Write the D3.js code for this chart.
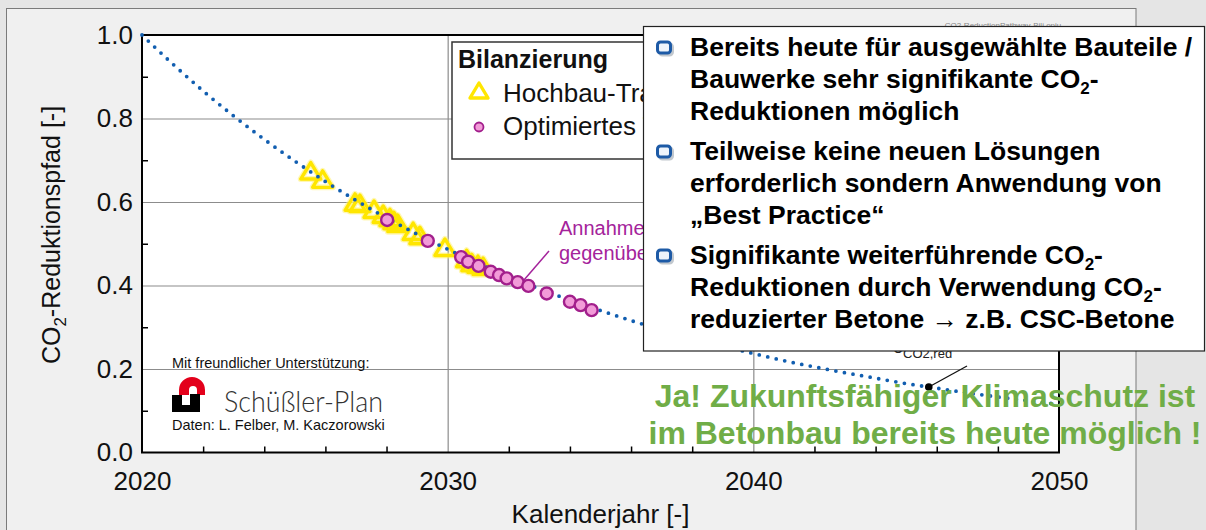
<!DOCTYPE html>
<html><head><meta charset="utf-8">
<script src="https://cdn.jsdelivr.net/npm/d3@7"></script>
<style>
html,body{margin:0;padding:0;background:#e5e5e5;}
svg{display:block;font-family:"Liberation Sans",Arial,sans-serif;}
</style></head><body>
<svg id="chart" width="1206" height="530"></svg>
<script>
// ---------------- data ----------------
const pathYears  = [2020,2021,2022,2023,2024,2025,2026,2027,2028,2029,2030,2031,2032,2033,2034,2035,2036,2037,2038,2039,2040,2041,2042,2043,2044,2045,2046,2047,2048,2049,2050];
const pathValues = [1.000,0.931,0.866,0.806,0.750,0.698,0.649,0.604,0.562,0.523,0.487,0.453,0.421,0.392,0.365,0.340,0.316,0.294,0.274,0.255,0.237,0.220,0.205,0.191,0.178,0.165,0.154,0.143,0.133,0.124,0.115];

const hochbauYears  = [2025.52,2025.91,2026.97,2027.13,2027.59,2027.89,2028.11,2028.24,2028.37,2028.87,2029.09,2029.91,2030.62,2030.79,2030.99,2031.16];
const hochbauValues = [0.673,0.653,0.598,0.595,0.581,0.569,0.561,0.554,0.547,0.528,0.518,0.490,0.463,0.453,0.449,0.444];

const optYears  = [2028.02,2029.35,2030.44,2030.67,2031.01,2031.41,2031.68,2031.93,2032.29,2032.64,2033.24,2034.00,2034.35,2034.71];
const optValues = [0.557,0.507,0.468,0.457,0.447,0.433,0.425,0.417,0.408,0.399,0.381,0.361,0.353,0.341];

const targetYear = [2045.74];
const targetValue = [0.157];

const xTicks = [2020,2030,2040,2050];
const yTicks = [0.0,0.2,0.4,0.6,0.8,1.0];
const xGrid = [2030,2040];
const yGrid = [0.2,0.4,0.6,0.8];
const xMinor = [2022,2024,2026,2028,2032,2034,2036,2038,2042,2044,2046,2048];
const yMinor = [0.1,0.3,0.5,0.7,0.9];

const xTitle = "Kalenderjahr [-]";
const yTitle = ["CO","2","-Reduktionspfad [-]"];
const legendTitle = "Bilanzierung";
const legendItems = ["Hochbau-Tragwerke","Optimiertes Tragwerk"];
const annotationLines = ["Annahme: optimierte Bauweise","gegenüber Referenz"];
const fileLabel = "CO2-ReductionPathway-Bili.opju";
const supportLabel = "Mit freundlicher Unterstützung:";
const logoLabel = "Schüßler-Plan";
const dataLabel = "Daten: L. Felber, M. Kaczorowski";
const bullets = [
  ["Bereits heute für ausgewählte Bauteile /","Bauwerke sehr signifikante CO_2-","Reduktionen möglich"],
  ["Teilweise keine neuen Lösungen","erforderlich sondern Anwendung von","„Best Practice“"],
  ["Signifikante weiterführende CO_2-","Reduktionen durch Verwendung CO_2-","reduzierter Betone → z.B. CSC-Betone"]
];
const conclusion = ["Ja! Zukunftsfähiger Klimaschutz ist","im Betonbau bereits heute möglich !"];

// ---------------- drawing ----------------
const W = 1206, H = 530;
const svg = d3.select("#chart");
const x = d3.scaleLinear().domain([2020,2050]).range([142,1059]);
const y = d3.scaleLinear().domain([0,1]).range([452.5,35]);
const pw = x(2050)-x(2020), ph = y(0)-y(1);

svg.append("rect").attr("width",W).attr("height",H).attr("fill","#e5e5e5");
svg.append("rect").attr("x",6.5).attr("y",8.5).attr("width",1129.5).attr("height",540)
  .attr("fill","#f0f0f0").attr("stroke","#7a7a7a").attr("stroke-width",1);

svg.append("text").attr("x",1003).attr("y",28).attr("text-anchor","middle")
  .attr("font-size",8).attr("fill","#888").text(fileLabel);

// plot background
svg.append("rect").attr("x",x(2020)).attr("y",y(1)).attr("width",pw).attr("height",ph).attr("fill","#fff");

// grid
function clean(g){ g.select(".domain").remove(); }
svg.append("g").attr("transform",`translate(0,${y(0)})`)
  .call(d3.axisBottom(x).tickValues(xGrid).tickSize(-ph).tickFormat(""))
  .call(clean).selectAll("line").attr("stroke","#8c8c8c").attr("stroke-width",1.2);
svg.append("g").attr("transform",`translate(${x(2020)},0)`)
  .call(d3.axisLeft(y).tickValues(yGrid).tickSize(-pw).tickFormat(""))
  .call(clean).selectAll("line").attr("stroke","#8c8c8c").attr("stroke-width",1.2);

// minor ticks
svg.append("g").attr("transform",`translate(0,${y(0)})`)
  .call(d3.axisBottom(x).tickValues(xMinor).tickSize(-6).tickFormat(""))
  .call(clean).selectAll("line").attr("stroke","#000").attr("stroke-width",1.5);
svg.append("g").attr("transform",`translate(${x(2020)},0)`)
  .call(d3.axisLeft(y).tickValues(yMinor).tickSize(-6).tickFormat(""))
  .call(clean).selectAll("line").attr("stroke","#000").attr("stroke-width",1.5);

// frame
svg.append("rect").attr("x",x(2020)).attr("y",y(1)).attr("width",pw).attr("height",ph)
  .attr("fill","none").attr("stroke","#000").attr("stroke-width",2);

// tick labels
const gx = svg.append("g").attr("transform",`translate(0,${y(0)})`)
  .call(d3.axisBottom(x).tickValues(xTicks).tickFormat(d3.format("d")).tickSize(0).tickPadding(19))
  .call(clean);
gx.attr("font-size",26).attr("font-family","'Liberation Sans',Arial,sans-serif");
gx.selectAll("text").attr("fill","#111");
const gy = svg.append("g").attr("transform",`translate(${x(2020)},0)`)
  .call(d3.axisLeft(y).tickValues(yTicks).tickFormat(d3.format(".1f")).tickSize(0).tickPadding(9))
  .call(clean);
gy.attr("font-size",26).attr("font-family","'Liberation Sans',Arial,sans-serif");
gy.selectAll("text").attr("fill","#111");

// axis titles
svg.append("text").attr("x",(x(2020)+x(2050))/2).attr("y",523).attr("text-anchor","middle")
  .attr("font-size",26).attr("fill","#111").text(xTitle);
const yt = svg.append("text").attr("transform","translate(60,235) rotate(-90)").attr("text-anchor","middle")
  .attr("font-size",25).attr("fill","#111");
yt.append("tspan").text(yTitle[0]);
yt.append("tspan").attr("font-size",17).attr("dy",6).text(yTitle[1]);
yt.append("tspan").attr("dy",-6).text(yTitle[2]);

// legend
const lg = svg.append("g");
lg.append("rect").attr("x",452).attr("y",42).attr("width",300).attr("height",117)
  .attr("fill","#fff").attr("stroke","#333").attr("stroke-width",1.5);
lg.append("text").attr("x",458).attr("y",68).attr("font-size",25).attr("font-weight","bold").attr("fill","#111").text(legendTitle);
lg.append("path").attr("d","M0,-8L9,7L-9,7Z").attr("transform","translate(479,91)")
  .attr("fill","none").attr("stroke","#ffe600").attr("stroke-width",3.4).attr("stroke-linejoin","round");
lg.append("text").attr("x",503).attr("y",102).attr("font-size",26).attr("fill","#111").text(legendItems[0]);
lg.append("circle").attr("cx",479).attr("cy",127).attr("r",4.5)
  .attr("fill","#f29bd8").attr("stroke","#a21f8c").attr("stroke-width",1.8);
lg.append("text").attr("x",503).attr("y",135).attr("font-size",26).attr("fill","#111").text(legendItems[1]);

// logo block
const lgo = svg.append("g");
lgo.append("text").attr("x",172).attr("y",367.5).attr("font-size",14.5).attr("fill","#111").text(supportLabel);
lgo.append("path").attr("d","M179,395V390A13,13 0 0 1 205,390V395H197V390A4,4 0 0 0 189,390V395Z").attr("fill","#e3001b");
lgo.append("path").attr("d","M172,395H182V405H190V394H200V412H172Z").attr("fill","#000");
lgo.append("text").attr("x",224).attr("y",411.5).attr("font-size",30).attr("font-weight",300)
  .attr("font-family","Lato,'Open Sans',sans-serif").attr("fill","#333")
  .attr("textLength",159).attr("lengthAdjust","spacingAndGlyphs").text(logoLabel);
lgo.append("text").attr("x",172).attr("y",430).attr("font-size",14.5).attr("fill","#111").text(dataLabel);

// data: triangles (halo + outline)
const triPath = "M0,-9L10,7.5L-10,7.5Z";
const triData = hochbauYears.map((d,i)=>[d,hochbauValues[i]]);
svg.append("g").selectAll("path").data(triData).join("path")
  .attr("d",triPath).attr("transform",d=>`translate(${x(d[0])},${y(d[1])})`)
  .attr("fill","none").attr("stroke","#fff176").attr("stroke-width",6).attr("stroke-linejoin","round").attr("opacity",0.55);
svg.append("g").selectAll("path").data(triData).join("path")
  .attr("d",triPath).attr("transform",d=>`translate(${x(d[0])},${y(d[1])})`)
  .attr("fill","none").attr("stroke","#ffe600").attr("stroke-width",3.4).attr("stroke-linejoin","round");

// reduction path (dotted)
const line = d3.line().x((d,i)=>x(pathYears[i])).y(d=>y(d)).curve(d3.curveMonotoneX);
svg.append("path").attr("d",line(pathValues)).attr("fill","none")
  .attr("stroke","#115eb0").attr("stroke-width",3.8).attr("stroke-linecap","round")
  .attr("stroke-dasharray","0 8.7");

// circles
svg.append("g").selectAll("circle").data(optYears.map((d,i)=>[d,optValues[i]])).join("circle")
  .attr("cx",d=>x(d[0])).attr("cy",d=>y(d[1])).attr("r",6)
  .attr("fill","#f29bd8").attr("stroke","#a21f8c").attr("stroke-width",2.4);

// magenta annotation
const ann = svg.append("g").attr("fill","#a4239b");
ann.append("line").attr("x1",549).attr("y1",251).attr("x2",524).attr("y2",280).attr("stroke","#a4239b").attr("stroke-width",1.5);
annotationLines.forEach((t,i)=>ann.append("text").attr("x",559).attr("y",235+i*25).attr("font-size",20).text(t));

// target annotation
const te = svg.append("text").attr("x",893).attr("y",353).attr("font-size",18).attr("fill","#222");
te.append("tspan").text("e");
te.append("tspan").attr("font-size",13).attr("dy",5).text("CO2,red");
te.append("tspan").attr("dy",-10).attr("dx",14).text("= –85 %");
svg.append("line").attr("x1",967).attr("y1",366).attr("x2",x(targetYear[0])).attr("y2",y(targetValue[0]))
  .attr("stroke","#111").attr("stroke-width",1.3);
svg.append("circle").attr("cx",x(targetYear[0])).attr("cy",y(targetValue[0])).attr("r",3.8).attr("fill","#000");

// text box
const tb = svg.append("g");
tb.append("rect").attr("x",643.5).attr("y",26.5).attr("width",561).attr("height",324.5)
  .attr("fill","#fff").attr("stroke","#222").attr("stroke-width",1.2);
const baselines = [[56,88,120],[160,192,224],[264,296,328]];
bullets.forEach((lines,bi)=>{
  const cy = baselines[bi][0]-8;
  tb.append("rect").attr("x",659.5).attr("y",cy-4).attr("width",13).attr("height",11).attr("rx",3)
    .attr("fill","none").attr("stroke","#9aa3ad").attr("stroke-width",3).attr("opacity",0.6);
  tb.append("rect").attr("x",657.5).attr("y",cy-6).attr("width",13).attr("height",11).attr("rx",3)
    .attr("fill","#eef4fb").attr("stroke","#1d5aa6").attr("stroke-width",3);
  lines.forEach((ln,li)=>{
    const t = tb.append("text").attr("x",690).attr("y",baselines[bi][li])
      .attr("font-size",26.5).attr("font-weight","bold").attr("fill","#000");
    const parts = ln.split("_2");
    parts.forEach((p,pi)=>{
      if(pi>0){ t.append("tspan").attr("font-size",17).attr("dy",6).text("2"); t.append("tspan").attr("dy",-6).text(p); }
      else t.append("tspan").text(p);
    });
  });
});

// conclusion
conclusion.forEach((t,i)=>svg.append("text").attr("x",925).attr("y",407+i*37).attr("text-anchor","middle")
  .attr("font-size",32).attr("font-weight","bold").attr("fill","#70ad47").text(t));
</script>
</body></html>
